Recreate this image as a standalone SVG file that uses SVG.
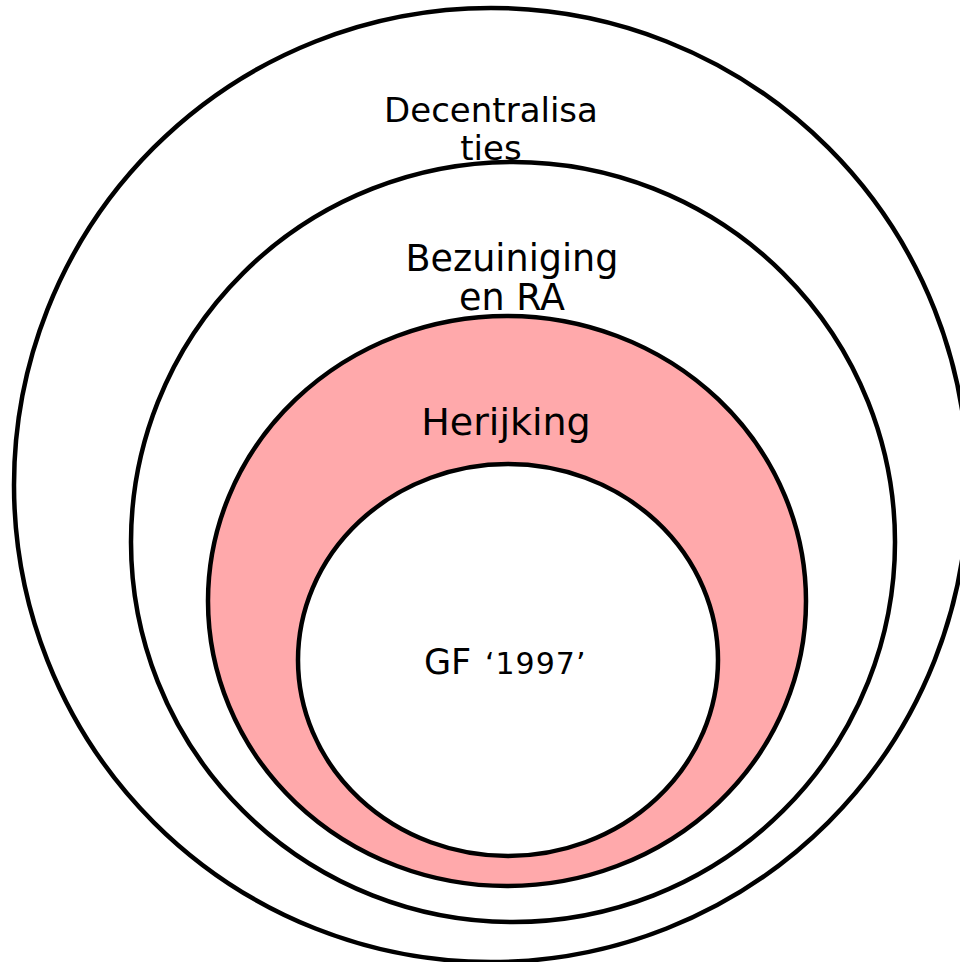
<svg xmlns="http://www.w3.org/2000/svg" width="960" height="962" viewBox="0 0 960 962">
<style>
.ring{fill:#fff;stroke:#000;stroke-width:4.5}
.pink{fill:#ffa9ab;stroke:#000;stroke-width:4.5}
text{font-family:"DejaVu Sans",Verdana,sans-serif;fill:#000;text-anchor:middle}
.lbl{font-size:34px}
.mid{font-size:36.5px}
.big{font-size:38px}
.gf{font-size:35px;text-anchor:start}
.sm{font-size:30px;text-anchor:start;letter-spacing:1px}
</style>
<rect width="960" height="962" fill="#fff"/>
<g id="decentralisaties">
<ellipse class="ring" cx="491" cy="485" rx="477" ry="477"/>
<text class="lbl" x="491" y="122">Decentralisa</text>
<text class="lbl" x="491" y="160">ties</text>
</g>
<g id="bezuiniging">
<ellipse class="ring" cx="513" cy="542" rx="382" ry="380"/>
<text class="mid" x="512" y="271">Bezuiniging</text>
<text class="mid" x="512" y="310">en RA</text>
</g>
<g id="herijking">
<ellipse class="pink" cx="507" cy="601" rx="299" ry="285"/>
<text class="big" x="506" y="435">Herijking</text>
</g>
<g id="gf1997">
<ellipse class="ring" cx="508" cy="660" rx="210" ry="196"/>
<text class="gf" x="424" y="674">GF</text>
<text class="sm" x="485" y="674">‘1997’</text>
</g>
</svg>
